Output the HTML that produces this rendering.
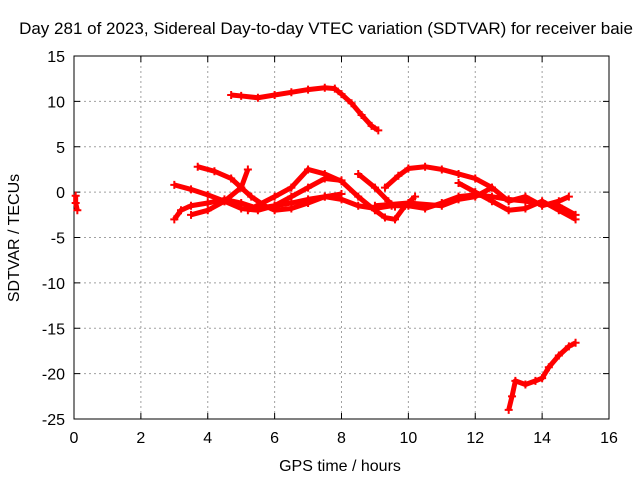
<!DOCTYPE html>
<html><head><meta charset="utf-8"><style>
body{margin:0;background:#fff}
svg text{font-family:"Liberation Sans",sans-serif;font-size:16px;fill:#000}
</style></head><body>
<svg id="c" width="640" height="480"></svg>
<script>
const xTicks=[0,2,4,6,8,10,12,14,16];
const yTicks=[15,10,5,0,-5,-10,-15,-20,-25];
const trackTop=[[4.7,10.7],[5.0,10.6],[5.5,10.4],[6.0,10.7],[6.5,11.0],[7.0,11.3],[7.5,11.5],[7.8,11.4],[8.0,10.8],[8.3,9.8],[8.6,8.5],[8.9,7.3],[9.1,6.8]];
const trackBottom=[[13.0,-24],[13.1,-22.5],[13.2,-20.8],[13.5,-21.2],[13.8,-20.8],[14.0,-20.5],[14.2,-19.3],[14.5,-18],[14.8,-17],[15.0,-16.6]];
const trackEarly=[[0.05,-0.4],[0.05,-1.2],[0.1,-2]];
const trackA=[[3.0,-3],[3.2,-2],[3.5,-1.5],[4,-1.2],[4.5,-0.8],[5,-1.2],[5.5,-1.8],[6,-1.5],[6.5,-1.2],[7,-0.8],[7.5,-0.5],[8,-0.8],[8.5,-1.5],[9,-1.8],[9.5,-1.5],[10,-1.5],[10.5,-1.8],[11,-1.2],[11.5,-0.5],[12,-0.3],[12.5,-0.5],[13,-0.8],[13.5,-1],[14,-1.3],[14.5,-1.5],[15,-2.5]];
const trackB=[[3.0,0.8],[3.5,0.3],[4,-0.3],[4.5,-1],[5,-1.8],[5.5,-2],[6,-1.5],[6.5,-0.5],[7,0.5],[7.5,1.5],[8,1.3]];
const trackC=[[3.7,2.8],[4.2,2.3],[4.7,1.5],[5.0,0.5],[5.3,-0.5],[5.7,-1.5],[6,-2],[6.5,-1.8],[7,-1.2],[7.5,-0.5],[8,-0.2]];
const trackD=[[3.5,-2.5],[4,-2],[4.5,-1],[5,0.5],[5.2,2.5]];
const trackE=[[5.2,-2],[6,-0.5],[6.5,0.5],[7,2.5],[7.5,2],[8,1.2],[8.5,-0.5],[9,-2],[9.3,-2.8],[9.6,-3],[9.9,-1.5],[10.2,-0.5]];
const trackF=[[8.5,2],[9,0.5],[9.4,-1],[9.6,-1.6]];
const trackG=[[9.3,0.5],[9.7,1.8],[10,2.6],[10.5,2.8],[11,2.5],[11.5,2],[12,1.5],[12.5,0.5]];
const trackH=[[9,-1.5],[10,-1.2],[11,-1.5],[11.5,-0.8],[12,-0.5],[12.5,0.5],[13,-1],[13.5,-0.5],[14,-1.5],[14.5,-1],[14.8,-0.5]];
const trackI=[[11.5,1],[12,0],[12.5,-1],[13,-2],[13.5,-1.8],[14,-1],[14.5,-2],[15,-3]];
const tracks=[trackTop,trackBottom,trackEarly,trackA,trackB,trackC,trackD,trackE,trackF,trackG,trackH,trackI];
const L=74,R=609,T=56,B=419;
const sx=v=>L+(v-0)/16*(R-L);
const sy=v=>B-(v+25)/40*(B-T);
const svg=document.getElementById('c');
const NS='http://www.w3.org/2000/svg';
function mk(t,a){const e=document.createElementNS(NS,t);for(const k in a)e.setAttribute(k,a[k]);svg.appendChild(e);return e;}
xTicks.forEach(v=>{
 if(v>0&&v<16){const g=mk('line',{x1:sx(v),x2:sx(v),y1:T,y2:B,stroke:'#a0a0a0','stroke-dasharray':'2,3'});
 
 }
 mk('line',{x1:sx(v),x2:sx(v),y1:B,y2:B-6,stroke:'#000'});
 mk('line',{x1:sx(v),x2:sx(v),y1:T,y2:T+6,stroke:'#000'});
 const t=mk('text',{x:sx(v),y:B+24,'text-anchor':'middle'});t.textContent=v;
 
 
});
yTicks.forEach(v=>{
 if(v>-25&&v<15){const g=mk('line',{x1:L,x2:R,y1:sy(v),y2:sy(v),stroke:'#a0a0a0','stroke-dasharray':'2,3'});
 
 }
 mk('line',{x1:L,x2:L+6,y1:sy(v),y2:sy(v),stroke:'#000'});
 mk('line',{x1:R,x2:R-6,y1:sy(v),y2:sy(v),stroke:'#000'});
 const t=mk('text',{x:L-9,y:sy(v)+6,'text-anchor':'end'});t.textContent=v;
 
 
});
const fr=mk('rect',{x:L,y:T,width:R-L,height:B-T,fill:'none',stroke:'#000'});


tracks.forEach(tr=>{
 const p=mk('polyline',{points:tr.map(d=>sx(d[0])+','+sy(d[1])).join(' '),fill:'none',stroke:'#ff0000','stroke-width':5,'stroke-linejoin':'round'});
 
 
 tr.forEach(d=>{
  const x=sx(d[0]),y=sy(d[1]);
  const m=mk('path',{d:`M${x-4},${y}H${x+4}M${x},${y-4}V${y+4}`,stroke:'#ff0000','stroke-width':2});
  
  
 });
});
const ti=mk('text',{x:326,y:34,'text-anchor':'middle','font-size':'17px',style:'font-size:17px'});ti.textContent='Day 281 of 2023, Sidereal Day-to-day VTEC variation (SDTVAR) for receiver baie';


const xl=mk('text',{x:340,y:471,'text-anchor':'middle'});xl.textContent='GPS time / hours';


const yl=mk('text',{x:0,y:0,'text-anchor':'middle',transform:'translate(19,238) rotate(-90)'});yl.textContent='SDTVAR / TECUs';


</script>
</body></html>
